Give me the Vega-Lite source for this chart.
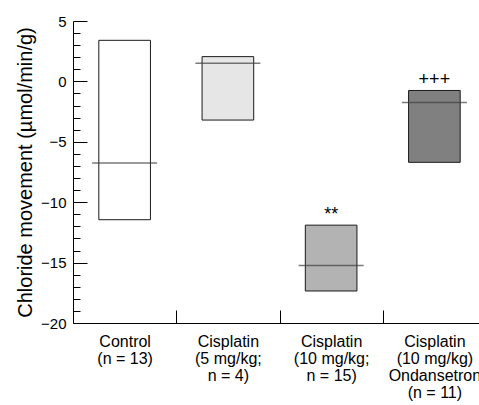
{
  "$schema": "https://vega.github.io/schema/vega-lite/v6.json",
  "width": 406,
  "height": 302,
  "autosize": "none",
  "padding": {"left": 73, "top": 21, "right": 0, "bottom": 82},
  "background": "white",
  "config": {"view": {"stroke": null}, "font": "Liberation Sans"},
  "data": {"values": [
    {"group": "Control\n(n = 13)", "low": -11.45, "high": 3.4, "median": -6.75, "sig": ""},
    {"group": "Cisplatin\n(5 mg/kg;\nn = 4)", "low": -3.2, "high": 2.05, "median": 1.5, "sig": ""},
    {"group": "Cisplatin\n(10 mg/kg;\nn = 15)", "low": -17.35, "high": -11.9, "median": -15.25, "sig": "**"},
    {"group": "Cisplatin\n(10 mg/kg)\nOndansetron\n(n = 11)", "low": -6.7, "high": -0.75, "median": -1.75, "sig": "+++"}
  ]},
  "encoding": {
    "x": {
      "field": "group", "type": "nominal", "sort": null,
      "scale": {"range": [0, 413], "paddingInner": 0, "paddingOuter": 0},
      "axis": {
        "title": null,
        "labelExpr": "split(datum.label, '\\n')",
        "labelAngle": 0,
        "labelFontSize": 16,
        "labelLineHeight": 17,
        "labelColor": "#000",
        "labelBaseline": "top",
        "labelPadding": 23,
        "tickSize": -13,
        "tickColor": "#000",
        "tickBand": "extent",
        "domainColor": "#000"
      }
    }
  },
  "resolve": {"axis": {"y": "independent"}},
  "layer": [
    {
      "mark": {"type": "bar", "width": {"band": 0.5}, "stroke": "#1a1a1a", "strokeWidth": 1},
      "encoding": {
        "y": {
          "field": "high", "type": "quantitative",
          "scale": {"domain": [-20, 5], "nice": false, "zero": false},
          "axis": {
            "orient": "left",
            "title": "Chloride movement (µmol/min/g)",
            "titleFontSize": 20,
            "titleFontWeight": "normal",
            "titleColor": "#000",
            "titlePadding": 5,
            "values": [5, 0, -5, -10, -15, -20],
            "labelFontSize": 15,
            "labelColor": "#000",
            "labelPadding": 21,
            "tickSize": -14,
            "tickColor": "#000",
            "domainColor": "#000",
            "grid": false
          }
        },
        "y2": {"field": "low"},
        "fill": {
          "field": "group", "type": "nominal", "sort": null,
          "scale": {"range": ["#ffffff", "#e6e6e6", "#b3b3b3", "#808080"]},
          "legend": null
        }
      }
    },
    {
      "mark": {"type": "tick", "orient": "horizontal", "size": 65, "thickness": 1.5, "color": "#404040"},
      "encoding": {
        "y": {
          "field": "median", "type": "quantitative",
          "axis": {
            "orient": "left",
            "title": null,
            "values": [4, 3, 2, 1, -1, -2, -3, -4, -6, -7, -8, -9, -11, -12, -13, -14, -16, -17, -18, -19],
            "labels": false,
            "domain": false,
            "tickSize": -7,
            "tickColor": "#000",
            "grid": false
          }
        }
      }
    },
    {
      "mark": {"type": "text", "baseline": "alphabetic", "dy": -5, "fontSize": 18, "color": "#000"},
      "encoding": {"y": {"field": "high", "type": "quantitative", "axis": null}, "text": {"field": "sig"}}
    }
  ]
}
